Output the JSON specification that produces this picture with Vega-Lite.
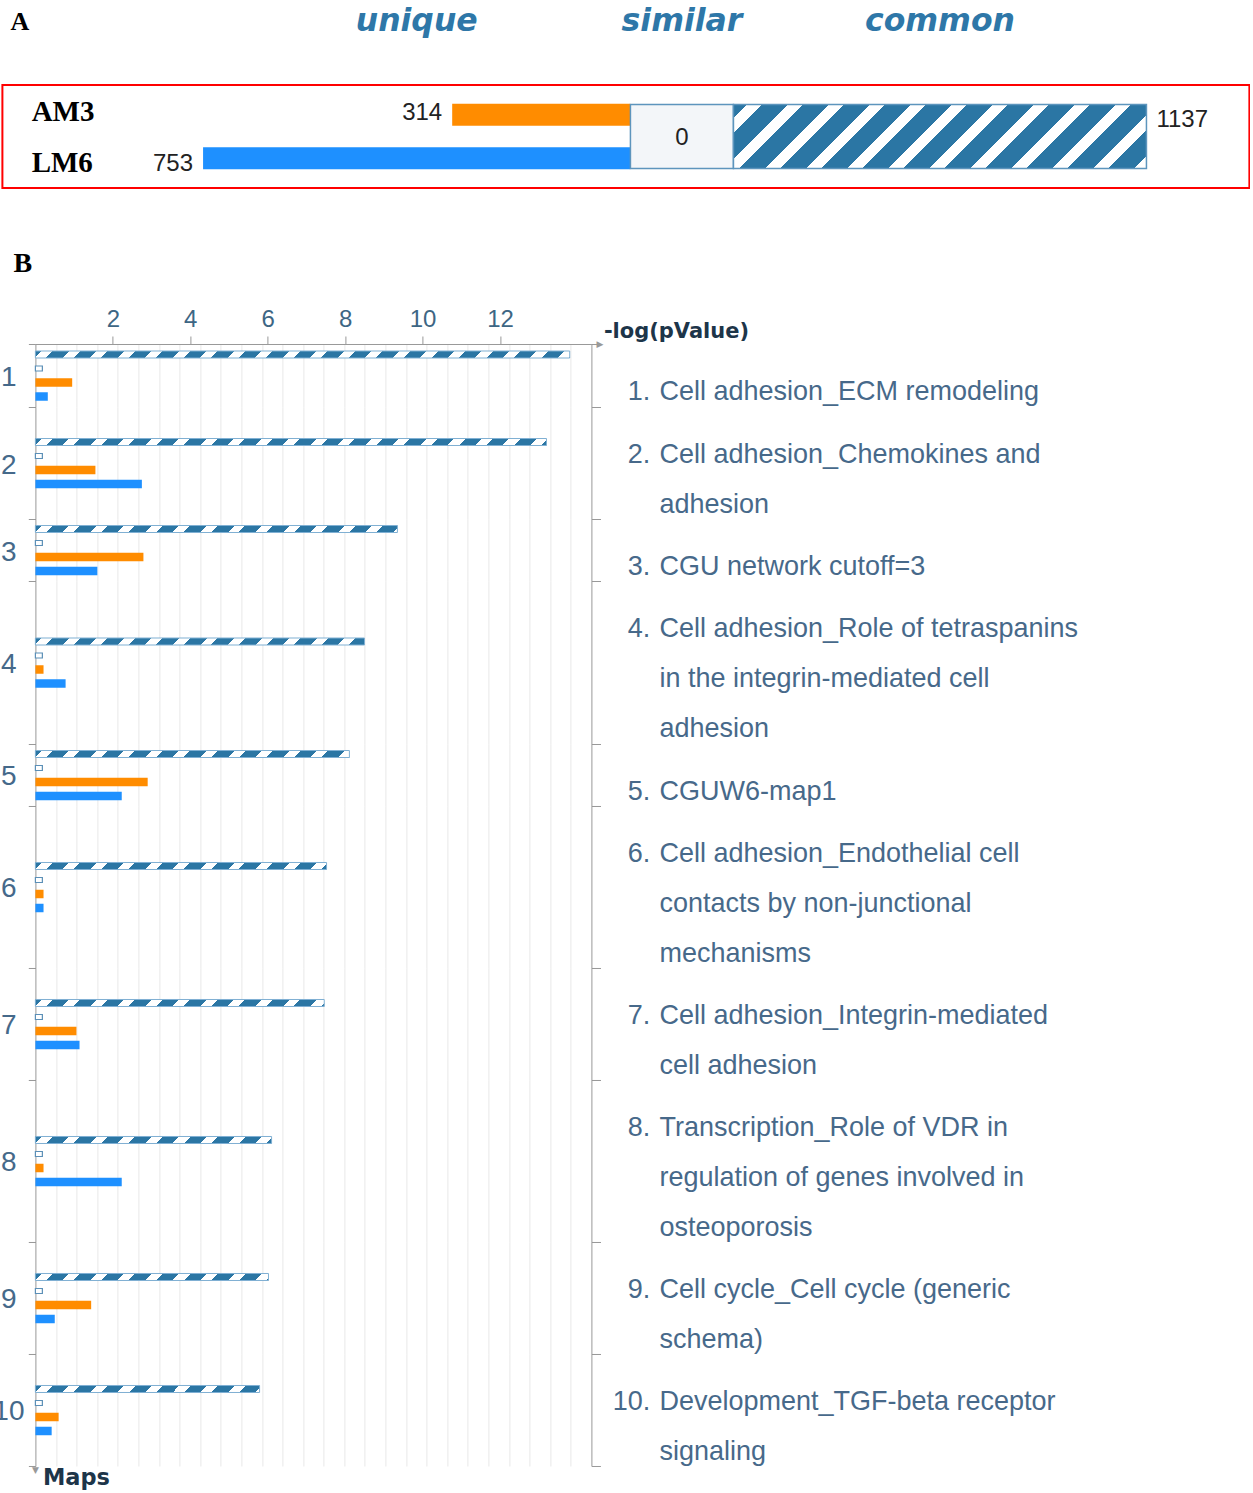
{
"$schema":"https://vega.github.io/schema/vega-lite/v6.json",
"background":"#ffffff",
"padding":{"left":-7.6,"top":0,"right":0,"bottom":2},
"config":{"view":{"stroke":null},"axis":{"labelFont":"Liberation Sans","titleFont":"DejaVu Sans","domainColor":"#999999","tickColor":"#999999","grid":false},"text":{"font":"Liberation Sans"}},
"datasets":{
"header":[{"label":"A"},{"label":"unique"},{"label":"similar"},{"label":"common"}],
"panelA":[{"sample":"AM3","kind":"AM3","n":314},{"sample":"LM6","kind":"LM6","n":753},{"sample":"AM3+LM6","kind":"similar","n":0},{"sample":"AM3+LM6","kind":"common","n":1137}],
"maps":[
{"map":1,"num":"1.","label":"Cell adhesion_ECM remodeling"},
{"map":2,"num":"2.","label":"Cell adhesion_Chemokines and\nadhesion"},
{"map":3,"num":"3.","label":"CGU network cutoff=3"},
{"map":4,"num":"4.","label":"Cell adhesion_Role of tetraspanins\nin the integrin-mediated cell\nadhesion"},
{"map":5,"num":"5.","label":"CGUW6-map1"},
{"map":6,"num":"6.","label":"Cell adhesion_Endothelial cell\ncontacts by non-junctional\nmechanisms"},
{"map":7,"num":"7.","label":"Cell adhesion_Integrin-mediated\ncell adhesion"},
{"map":8,"num":"8.","label":"Transcription_Role of VDR in\nregulation of genes involved in\nosteoporosis"},
{"map":9,"num":"9.","label":"Cell cycle_Cell cycle (generic\nschema)"},
{"map":10,"num":"10.","label":"Development_TGF-beta receptor\nsignaling"}],
"bars":[
{"map":1,"kind":"common","value":13.8},{"map":1,"kind":"similar","value":0.18},{"map":1,"kind":"AM3","value":0.95},{"map":1,"kind":"LM6","value":0.32},
{"map":2,"kind":"common","value":13.2},{"map":2,"kind":"similar","value":0.18},{"map":2,"kind":"AM3","value":1.55},{"map":2,"kind":"LM6","value":2.75},
{"map":3,"kind":"common","value":9.35},{"map":3,"kind":"similar","value":0.18},{"map":3,"kind":"AM3","value":2.79},{"map":3,"kind":"LM6","value":1.6},
{"map":4,"kind":"common","value":8.5},{"map":4,"kind":"similar","value":0.18},{"map":4,"kind":"AM3","value":0.21},{"map":4,"kind":"LM6","value":0.78},
{"map":5,"kind":"common","value":8.11},{"map":5,"kind":"similar","value":0.18},{"map":5,"kind":"AM3","value":2.9},{"map":5,"kind":"LM6","value":2.23},
{"map":6,"kind":"common","value":7.52},{"map":6,"kind":"similar","value":0.18},{"map":6,"kind":"AM3","value":0.21},{"map":6,"kind":"LM6","value":0.21},
{"map":7,"kind":"common","value":7.46},{"map":7,"kind":"similar","value":0.18},{"map":7,"kind":"AM3","value":1.06},{"map":7,"kind":"LM6","value":1.14},
{"map":8,"kind":"common","value":6.1},{"map":8,"kind":"similar","value":0.18},{"map":8,"kind":"AM3","value":0.21},{"map":8,"kind":"LM6","value":2.23},
{"map":9,"kind":"common","value":6.02},{"map":9,"kind":"similar","value":0.18},{"map":9,"kind":"AM3","value":1.44},{"map":9,"kind":"LM6","value":0.5},
{"map":10,"kind":"common","value":5.79},{"map":10,"kind":"similar","value":0.18},{"map":10,"kind":"AM3","value":0.6},{"map":10,"kind":"LM6","value":0.42}]
},
"spacing":0,
"vconcat":[
{"width":1247,"height":84,"data":{"name":"header"},
"layer":[
{"transform":[{"filter":"datum.label==='A'"}],"mark":{"type":"text","align":"left","baseline":"middle","dy":-20,"font":"Liberation Serif","fontWeight":"bold","fontSize":26,"color":"#000000"},"encoding":{"x":{"datum":1092.5,"type":"quantitative","scale":{"domain":[-1090.8,1106.6],"reverse":true,"nice":false,"zero":false},"axis":null},"text":{"field":"label"}}},
{"transform":[{"filter":"datum.label==='unique'"}],"mark":{"type":"text","align":"center","baseline":"middle","dy":-20,"font":"DejaVu Sans","fontStyle":"italic","fontWeight":"bold","fontSize":31.5,"color":"#2e77a8"},"encoding":{"x":{"datum":376.5,"type":"quantitative","scale":{"domain":[-1090.8,1106.6],"reverse":true,"nice":false,"zero":false},"axis":null},"text":{"field":"label"}}},
{"transform":[{"filter":"datum.label==='similar'"}],"mark":{"type":"text","align":"center","baseline":"middle","dy":-20,"font":"DejaVu Sans","fontStyle":"italic","fontWeight":"bold","fontSize":31.5,"color":"#2e77a8"},"encoding":{"x":{"datum":-141.8,"type":"quantitative","scale":{"domain":[-2012.6,1420.4],"nice":false,"zero":false},"axis":null},"text":{"field":"label"}}},
{"transform":[{"filter":"datum.label==='common'"}],"mark":{"type":"text","align":"center","baseline":"middle","dy":-20,"font":"DejaVu Sans","fontStyle":"italic","fontWeight":"bold","fontSize":31.5,"color":"#2e77a8"},"encoding":{"x":{"datum":568.5,"type":"quantitative","scale":{"domain":[-2012.6,1420.4],"nice":false,"zero":false},"axis":null},"text":{"field":"label"}}}
],
"resolve":{"scale":{"x":"independent"}}},
{"width":1247,"height":103,"view":{"stroke":"#ff0000","strokeWidth":2},"data":{"name":"panelA"},
"layer":[
{"transform":[{"filter":"datum.kind==='AM3'||datum.kind==='LM6'"}],"mark":{"type":"bar"},"encoding":{"x":{"field":"n","type":"quantitative","scale":{"domain":[-1090.8,1106.6],"reverse":true,"nice":false,"zero":false},"axis":null},"y":{"field":"sample","type":"nominal","scale":{"domain":["AM3","LM6"],"paddingInner":0.494,"paddingOuter":0.431},"axis":null},"color":{"field":"kind","type":"nominal","scale":{"domain":["AM3","LM6"],"range":["#ff8c00","#1e90ff"]},"legend":null}}},
{"transform":[{"filter":"datum.kind==='AM3'||datum.kind==='LM6'"}],"mark":{"type":"text","align":"left","baseline":"middle","dy":1,"font":"Liberation Serif","fontWeight":"bold","fontSize":29,"color":"#000000"},"encoding":{"x":{"datum":1055,"type":"quantitative","scale":{"domain":[-1090.8,1106.6],"reverse":true,"nice":false,"zero":false},"axis":null},"y":{"field":"sample","type":"nominal","scale":{"domain":["AM3","LM6"],"paddingInner":0.494,"paddingOuter":0.431},"axis":null},"text":{"field":"sample"}}},
{"transform":[{"filter":"datum.kind==='AM3'||datum.kind==='LM6'"}],"mark":{"type":"text","align":"right","baseline":"middle","dx":-10,"dy":2,"font":"Liberation Sans","fontSize":24,"color":"#222222"},"encoding":{"x":{"field":"n","type":"quantitative","scale":{"domain":[-1090.8,1106.6],"reverse":true,"nice":false,"zero":false},"axis":null},"y":{"field":"sample","type":"nominal","scale":{"domain":["AM3","LM6"],"paddingInner":0.494,"paddingOuter":0.431},"axis":null},"text":{"field":"n"}}},
{"transform":[{"filter":"datum.kind==='similar'"}],"mark":{"type":"bar","fill":"#f3f6f9","stroke":"#5d95bd","strokeWidth":1.5},"encoding":{"x":{"datum":-283.6,"type":"quantitative","scale":{"domain":[-2012.6,1420.4],"nice":false,"zero":false},"axis":null},"x2":{"datum":0},"y":{"datum":"AM3+LM6","type":"nominal","scale":{"domain":["AM3+LM6"],"paddingInner":0,"paddingOuter":0.3047},"axis":null}}},
{"transform":[{"filter":"datum.kind==='similar'"}],"mark":{"type":"text","align":"center","baseline":"middle","dy":1,"font":"Liberation Sans","fontSize":24,"color":"#222222"},"encoding":{"x":{"datum":-141.8,"type":"quantitative","scale":{"domain":[-2012.6,1420.4],"nice":false,"zero":false},"axis":null},"y":{"datum":"AM3+LM6","type":"nominal","scale":{"domain":["AM3+LM6"],"paddingInner":0,"paddingOuter":0.3047},"axis":null},"text":{"field":"n"}}},
{"transform":[{"filter":"datum.kind==='common'"}],"mark":{"type":"bar","stroke":"#5d95bd","strokeWidth":1.5,"fill":{"gradient":"linear","x1":0,"y1":0,"x2":1.2,"y2":0.18596,"stops":[{"offset":0,"color":"#2b76a4"},
{"offset":0.0266,"color":"#2b76a4"},{"offset":0.0266,"color":"#fff"},{"offset":0.0562,"color":"#fff"},{"offset":0.0562,"color":"#2b76a4"},
{"offset":0.1074,"color":"#2b76a4"},{"offset":0.1074,"color":"#fff"},{"offset":0.1369,"color":"#fff"},{"offset":0.1369,"color":"#2b76a4"},
{"offset":0.1882,"color":"#2b76a4"},{"offset":0.1882,"color":"#fff"},{"offset":0.2177,"color":"#fff"},{"offset":0.2177,"color":"#2b76a4"},
{"offset":0.269,"color":"#2b76a4"},{"offset":0.269,"color":"#fff"},{"offset":0.2985,"color":"#fff"},{"offset":0.2985,"color":"#2b76a4"},
{"offset":0.3498,"color":"#2b76a4"},{"offset":0.3498,"color":"#fff"},{"offset":0.3793,"color":"#fff"},{"offset":0.3793,"color":"#2b76a4"},
{"offset":0.4305,"color":"#2b76a4"},{"offset":0.4305,"color":"#fff"},{"offset":0.4601,"color":"#fff"},{"offset":0.4601,"color":"#2b76a4"},
{"offset":0.5113,"color":"#2b76a4"},{"offset":0.5113,"color":"#fff"},{"offset":0.5409,"color":"#fff"},{"offset":0.5409,"color":"#2b76a4"},
{"offset":0.5921,"color":"#2b76a4"},{"offset":0.5921,"color":"#fff"},{"offset":0.6217,"color":"#fff"},{"offset":0.6217,"color":"#2b76a4"},
{"offset":0.6729,"color":"#2b76a4"},{"offset":0.6729,"color":"#fff"},{"offset":0.7025,"color":"#fff"},{"offset":0.7025,"color":"#2b76a4"},
{"offset":0.7537,"color":"#2b76a4"},{"offset":0.7537,"color":"#fff"},{"offset":0.7833,"color":"#fff"},{"offset":0.7833,"color":"#2b76a4"},
{"offset":0.8345,"color":"#2b76a4"},{"offset":0.8345,"color":"#fff"},{"offset":0.864,"color":"#fff"},{"offset":0.864,"color":"#2b76a4"},
{"offset":0.9153,"color":"#2b76a4"},{"offset":0.9153,"color":"#fff"},{"offset":0.9448,"color":"#fff"},{"offset":0.9448,"color":"#2b76a4"}]}},"encoding":{"x":{"field":"n","type":"quantitative","scale":{"domain":[-2012.6,1420.4],"nice":false,"zero":false},"axis":null},"y":{"datum":"AM3+LM6","type":"nominal","scale":{"domain":["AM3+LM6"],"paddingInner":0,"paddingOuter":0.3047},"axis":null}}},
{"transform":[{"filter":"datum.kind==='common'"}],"mark":{"type":"text","align":"left","baseline":"middle","dx":10,"dy":-17,"font":"Liberation Sans","fontSize":24,"color":"#222222"},"encoding":{"x":{"field":"n","type":"quantitative","scale":{"domain":[-2012.6,1420.4],"nice":false,"zero":false},"axis":null},"y":{"datum":"AM3+LM6","type":"nominal","scale":{"domain":["AM3+LM6"],"paddingInner":0,"paddingOuter":0.3047},"axis":null},"text":{"field":"n"}}}
],
"resolve":{"scale":{"x":"independent","y":"independent"}}},
{"width":1247,"height":60,"mark":"point","data":{"values":[]}},
{"hconcat":[
{"width":33,"height":1,"mark":"point","data":{"values":[]}},
{"vconcat":[
{"width":556,"height":63,
"title":{"text":"B","anchor":"start","frame":"group","dx":-22,"offset":2,"font":"Liberation Serif","fontSize":28,"fontWeight":"bold","color":"#000000","baseline":"bottom"},
"layer":[
{"data":{"name":"maps"},"transform":[{"filter":"datum.map===1"}],"mark":{"type":"point","opacity":0},"encoding":{"x":{"datum":0,"type":"quantitative","scale":{"domain":[0,27],"nice":false,"zero":false},"axis":{"orient":"bottom","grid":true,"gridColor":"#e8e8e8","labels":false,"ticks":false,"domain":false,"title":null,"values":[1,2,3,4,5,6,7,8,9,10,11,12,13,14,15,16,17,18,19,20,21,22,23,24,25,26]}}}},
{"data":{"name":"maps"},"transform":[{"filter":"datum.map===1"}],"mark":{"type":"text","align":"left","baseline":"alphabetic","dy":56,"lineBreak":"\n","lineHeight":50,"fontSize":27,"color":"#47698a"},"encoding":{"x":{"datum":16.12,"type":"quantitative","scale":{"domain":[0,14.36],"nice":false,"zero":false},"axis":null},"y":{"field":"map","type":"nominal","bandPosition":0,"scale":{"paddingInner":0,"paddingOuter":0},"axis":{"orient":"left","title":null,"tickBand":"extent","tickSize":7,"labelFontSize":28,"labelAlign":"center","labelColor":"#45698a","labelPadding":20,"labelOffset":2}},"text":{"field":"label"}}},
{"data":{"name":"maps"},"transform":[{"filter":"datum.map===1"}],"mark":{"type":"text","align":"right","baseline":"alphabetic","dy":56,"fontSize":27,"color":"#47698a"},"encoding":{"x":{"datum":15.88,"type":"quantitative","scale":{"domain":[0,14.36],"nice":false,"zero":false},"axis":null},"y":{"field":"map","type":"nominal","bandPosition":0,"scale":{"paddingInner":0,"paddingOuter":0},"axis":{"orient":"right","labels":false,"title":null,"tickBand":"extent","tickSize":9}},"text":{"field":"num"}}},
{"data":{"name":"bars"},"transform":[{"filter":"datum.map===1&&datum.kind==='common'"}],"mark":{"type":"bar","height":7,"stroke":"#7fb0d3","strokeWidth":1,"fill":{"gradient":"linear","x1":0,"y1":0,"x2":1.0481,"y2":0.01373,"stops":[{"offset":0,"color":"#2b76a4"},
{"offset":0.0116,"color":"#2b76a4"},{"offset":0.0116,"color":"#fff"},{"offset":0.0313,"color":"#fff"},{"offset":0.0313,"color":"#2b76a4"},
{"offset":0.0607,"color":"#2b76a4"},{"offset":0.0607,"color":"#fff"},{"offset":0.0804,"color":"#fff"},{"offset":0.0804,"color":"#2b76a4"},
{"offset":0.1098,"color":"#2b76a4"},{"offset":0.1098,"color":"#fff"},{"offset":0.1295,"color":"#fff"},{"offset":0.1295,"color":"#2b76a4"},
{"offset":0.1589,"color":"#2b76a4"},{"offset":0.1589,"color":"#fff"},{"offset":0.1786,"color":"#fff"},{"offset":0.1786,"color":"#2b76a4"},
{"offset":0.208,"color":"#2b76a4"},{"offset":0.208,"color":"#fff"},{"offset":0.2277,"color":"#fff"},{"offset":0.2277,"color":"#2b76a4"},
{"offset":0.2571,"color":"#2b76a4"},{"offset":0.2571,"color":"#fff"},{"offset":0.2768,"color":"#fff"},{"offset":0.2768,"color":"#2b76a4"},
{"offset":0.3063,"color":"#2b76a4"},{"offset":0.3063,"color":"#fff"},{"offset":0.3259,"color":"#fff"},{"offset":0.3259,"color":"#2b76a4"},
{"offset":0.3554,"color":"#2b76a4"},{"offset":0.3554,"color":"#fff"},{"offset":0.375,"color":"#fff"},{"offset":0.375,"color":"#2b76a4"},
{"offset":0.4045,"color":"#2b76a4"},{"offset":0.4045,"color":"#fff"},{"offset":0.4241,"color":"#fff"},{"offset":0.4241,"color":"#2b76a4"},
{"offset":0.4536,"color":"#2b76a4"},{"offset":0.4536,"color":"#fff"},{"offset":0.4732,"color":"#fff"},{"offset":0.4732,"color":"#2b76a4"},
{"offset":0.5027,"color":"#2b76a4"},{"offset":0.5027,"color":"#fff"},{"offset":0.5223,"color":"#fff"},{"offset":0.5223,"color":"#2b76a4"},
{"offset":0.5518,"color":"#2b76a4"},{"offset":0.5518,"color":"#fff"},{"offset":0.5714,"color":"#fff"},{"offset":0.5714,"color":"#2b76a4"},
{"offset":0.6009,"color":"#2b76a4"},{"offset":0.6009,"color":"#fff"},{"offset":0.6205,"color":"#fff"},{"offset":0.6205,"color":"#2b76a4"},
{"offset":0.65,"color":"#2b76a4"},{"offset":0.65,"color":"#fff"},{"offset":0.6696,"color":"#fff"},{"offset":0.6696,"color":"#2b76a4"},
{"offset":0.6991,"color":"#2b76a4"},{"offset":0.6991,"color":"#fff"},{"offset":0.7188,"color":"#fff"},{"offset":0.7188,"color":"#2b76a4"},
{"offset":0.7482,"color":"#2b76a4"},{"offset":0.7482,"color":"#fff"},{"offset":0.7679,"color":"#fff"},{"offset":0.7679,"color":"#2b76a4"},
{"offset":0.7973,"color":"#2b76a4"},{"offset":0.7973,"color":"#fff"},{"offset":0.817,"color":"#fff"},{"offset":0.817,"color":"#2b76a4"},
{"offset":0.8464,"color":"#2b76a4"},{"offset":0.8464,"color":"#fff"},{"offset":0.8661,"color":"#fff"},{"offset":0.8661,"color":"#2b76a4"},
{"offset":0.8955,"color":"#2b76a4"},{"offset":0.8955,"color":"#fff"},{"offset":0.9152,"color":"#fff"},{"offset":0.9152,"color":"#2b76a4"},
{"offset":0.9446,"color":"#2b76a4"},{"offset":0.9446,"color":"#fff"},{"offset":0.9643,"color":"#fff"},{"offset":0.9643,"color":"#2b76a4"}]}},"encoding":{"x":{"field":"value","type":"quantitative","scale":{"domain":[0,14.36],"nice":false,"zero":false},"axis":{"orient":"top","values":[2,4,6,8,10,12],"tickSize":8,"labelFontSize":24,"labelColor":"#3d6684","labelPadding":4.5,"title":"-log(pValue)","titleFontWeight":"bold","titleFontSize":21,"titleColor":"#1d3549","titleAngle":0,"titleAlign":"left","titleBaseline":"middle","titleX":568,"titleY":-13}},"y":{"field":"map","type":"nominal","scale":{"paddingInner":0,"paddingOuter":0.0625},"axis":null},"yOffset":{"field":"kind","type":"nominal","scale":{"domain":["common","similar","AM3","LM6"],"paddingInner":0.43,"paddingOuter":0.215}}}},
{"data":{"name":"bars"},"transform":[{"filter":"datum.map===1&&datum.kind==='similar'"}],"mark":{"type":"bar","height":5,"fill":"#ffffff","stroke":"#5b8fb7","strokeWidth":1.2},"encoding":{"x":{"field":"value","type":"quantitative","scale":{"domain":[0,14.36],"nice":false,"zero":false},"axis":null},"y":{"field":"map","type":"nominal","scale":{"paddingInner":0,"paddingOuter":0.0625},"axis":null},"yOffset":{"field":"kind","type":"nominal","scale":{"domain":["common","similar","AM3","LM6"],"paddingInner":0.43,"paddingOuter":0.215}}}},
{"data":{"name":"bars"},"transform":[{"filter":"datum.map===1&&(datum.kind==='AM3'||datum.kind==='LM6')"}],"mark":{"type":"bar","height":8.5},"encoding":{"x":{"field":"value","type":"quantitative","scale":{"domain":[0,14.36],"nice":false,"zero":false},"axis":null},"y":{"field":"map","type":"nominal","scale":{"paddingInner":0,"paddingOuter":0.0625},"axis":null},"yOffset":{"field":"kind","type":"nominal","scale":{"domain":["common","similar","AM3","LM6"],"paddingInner":0.43,"paddingOuter":0.215}},"color":{"field":"kind","type":"nominal","scale":{"domain":["AM3","LM6"],"range":["#ff8c00","#1e90ff"]},"legend":null}}},
{"data":{"name":"maps"},"transform":[{"filter":"datum.map===1"}],"mark":{"type":"text","text":"▶","font":"DejaVu Sans","fontSize":9,"align":"left","baseline":"middle","dy":-31.5,"color":"#999999"},"encoding":{"x":{"datum":14.49,"type":"quantitative","scale":{"domain":[0,14.36],"nice":false,"zero":false},"axis":null},"y":{"field":"map","type":"nominal","scale":{"paddingInner":0,"paddingOuter":0},"axis":null}}}
],
"resolve":{"scale":{"x":"independent","y":"independent","yOffset":"independent"}}},
{"width":556,"height":112,
"layer":[
{"data":{"name":"maps"},"transform":[{"filter":"datum.map===2"}],"mark":{"type":"point","opacity":0},"encoding":{"x":{"datum":0,"type":"quantitative","scale":{"domain":[0,27],"nice":false,"zero":false},"axis":{"orient":"bottom","grid":true,"gridColor":"#e8e8e8","labels":false,"ticks":false,"domain":false,"title":null,"values":[1,2,3,4,5,6,7,8,9,10,11,12,13,14,15,16,17,18,19,20,21,22,23,24,25,26]}}}},
{"data":{"name":"maps"},"transform":[{"filter":"datum.map===2"}],"mark":{"type":"text","align":"left","baseline":"alphabetic","dy":56,"lineBreak":"\n","lineHeight":50,"fontSize":27,"color":"#47698a"},"encoding":{"x":{"datum":16.12,"type":"quantitative","scale":{"domain":[0,14.36],"nice":false,"zero":false},"axis":null},"y":{"field":"map","type":"nominal","bandPosition":0,"scale":{"paddingInner":0,"paddingOuter":0},"axis":{"orient":"left","title":null,"tickBand":"extent","tickSize":7,"labelFontSize":28,"labelAlign":"center","labelColor":"#45698a","labelPadding":20,"labelOffset":2}},"text":{"field":"label"}}},
{"data":{"name":"maps"},"transform":[{"filter":"datum.map===2"}],"mark":{"type":"text","align":"right","baseline":"alphabetic","dy":56,"fontSize":27,"color":"#47698a"},"encoding":{"x":{"datum":15.88,"type":"quantitative","scale":{"domain":[0,14.36],"nice":false,"zero":false},"axis":null},"y":{"field":"map","type":"nominal","bandPosition":0,"scale":{"paddingInner":0,"paddingOuter":0},"axis":{"orient":"right","labels":false,"title":null,"tickBand":"extent","tickSize":9}},"text":{"field":"num"}}},
{"data":{"name":"bars"},"transform":[{"filter":"datum.map===2&&datum.kind==='common'"}],"mark":{"type":"bar","height":7,"stroke":"#7fb0d3","strokeWidth":1,"fill":{"gradient":"linear","x1":0,"y1":0,"x2":1.0957,"y2":0.01501,"stops":[{"offset":0,"color":"#2b76a4"},
{"offset":0.0116,"color":"#2b76a4"},{"offset":0.0116,"color":"#fff"},{"offset":0.0313,"color":"#fff"},{"offset":0.0313,"color":"#2b76a4"},
{"offset":0.0607,"color":"#2b76a4"},{"offset":0.0607,"color":"#fff"},{"offset":0.0804,"color":"#fff"},{"offset":0.0804,"color":"#2b76a4"},
{"offset":0.1098,"color":"#2b76a4"},{"offset":0.1098,"color":"#fff"},{"offset":0.1295,"color":"#fff"},{"offset":0.1295,"color":"#2b76a4"},
{"offset":0.1589,"color":"#2b76a4"},{"offset":0.1589,"color":"#fff"},{"offset":0.1786,"color":"#fff"},{"offset":0.1786,"color":"#2b76a4"},
{"offset":0.208,"color":"#2b76a4"},{"offset":0.208,"color":"#fff"},{"offset":0.2277,"color":"#fff"},{"offset":0.2277,"color":"#2b76a4"},
{"offset":0.2571,"color":"#2b76a4"},{"offset":0.2571,"color":"#fff"},{"offset":0.2768,"color":"#fff"},{"offset":0.2768,"color":"#2b76a4"},
{"offset":0.3063,"color":"#2b76a4"},{"offset":0.3063,"color":"#fff"},{"offset":0.3259,"color":"#fff"},{"offset":0.3259,"color":"#2b76a4"},
{"offset":0.3554,"color":"#2b76a4"},{"offset":0.3554,"color":"#fff"},{"offset":0.375,"color":"#fff"},{"offset":0.375,"color":"#2b76a4"},
{"offset":0.4045,"color":"#2b76a4"},{"offset":0.4045,"color":"#fff"},{"offset":0.4241,"color":"#fff"},{"offset":0.4241,"color":"#2b76a4"},
{"offset":0.4536,"color":"#2b76a4"},{"offset":0.4536,"color":"#fff"},{"offset":0.4732,"color":"#fff"},{"offset":0.4732,"color":"#2b76a4"},
{"offset":0.5027,"color":"#2b76a4"},{"offset":0.5027,"color":"#fff"},{"offset":0.5223,"color":"#fff"},{"offset":0.5223,"color":"#2b76a4"},
{"offset":0.5518,"color":"#2b76a4"},{"offset":0.5518,"color":"#fff"},{"offset":0.5714,"color":"#fff"},{"offset":0.5714,"color":"#2b76a4"},
{"offset":0.6009,"color":"#2b76a4"},{"offset":0.6009,"color":"#fff"},{"offset":0.6205,"color":"#fff"},{"offset":0.6205,"color":"#2b76a4"},
{"offset":0.65,"color":"#2b76a4"},{"offset":0.65,"color":"#fff"},{"offset":0.6696,"color":"#fff"},{"offset":0.6696,"color":"#2b76a4"},
{"offset":0.6991,"color":"#2b76a4"},{"offset":0.6991,"color":"#fff"},{"offset":0.7188,"color":"#fff"},{"offset":0.7188,"color":"#2b76a4"},
{"offset":0.7482,"color":"#2b76a4"},{"offset":0.7482,"color":"#fff"},{"offset":0.7679,"color":"#fff"},{"offset":0.7679,"color":"#2b76a4"},
{"offset":0.7973,"color":"#2b76a4"},{"offset":0.7973,"color":"#fff"},{"offset":0.817,"color":"#fff"},{"offset":0.817,"color":"#2b76a4"},
{"offset":0.8464,"color":"#2b76a4"},{"offset":0.8464,"color":"#fff"},{"offset":0.8661,"color":"#fff"},{"offset":0.8661,"color":"#2b76a4"},
{"offset":0.8955,"color":"#2b76a4"},{"offset":0.8955,"color":"#fff"},{"offset":0.9152,"color":"#fff"},{"offset":0.9152,"color":"#2b76a4"}]}},"encoding":{"x":{"field":"value","type":"quantitative","scale":{"domain":[0,14.36],"nice":false,"zero":false},"axis":null},"y":{"field":"map","type":"nominal","scale":{"paddingInner":0,"paddingOuter":0.5},"axis":null},"yOffset":{"field":"kind","type":"nominal","scale":{"domain":["common","similar","AM3","LM6"],"paddingInner":0.43,"paddingOuter":0.215}}}},
{"data":{"name":"bars"},"transform":[{"filter":"datum.map===2&&datum.kind==='similar'"}],"mark":{"type":"bar","height":5,"fill":"#ffffff","stroke":"#5b8fb7","strokeWidth":1.2},"encoding":{"x":{"field":"value","type":"quantitative","scale":{"domain":[0,14.36],"nice":false,"zero":false},"axis":null},"y":{"field":"map","type":"nominal","scale":{"paddingInner":0,"paddingOuter":0.5},"axis":null},"yOffset":{"field":"kind","type":"nominal","scale":{"domain":["common","similar","AM3","LM6"],"paddingInner":0.43,"paddingOuter":0.215}}}},
{"data":{"name":"bars"},"transform":[{"filter":"datum.map===2&&(datum.kind==='AM3'||datum.kind==='LM6')"}],"mark":{"type":"bar","height":8.5},"encoding":{"x":{"field":"value","type":"quantitative","scale":{"domain":[0,14.36],"nice":false,"zero":false},"axis":null},"y":{"field":"map","type":"nominal","scale":{"paddingInner":0,"paddingOuter":0.5},"axis":null},"yOffset":{"field":"kind","type":"nominal","scale":{"domain":["common","similar","AM3","LM6"],"paddingInner":0.43,"paddingOuter":0.215}},"color":{"field":"kind","type":"nominal","scale":{"domain":["AM3","LM6"],"range":["#ff8c00","#1e90ff"]},"legend":null}}}
],
"resolve":{"scale":{"x":"independent","y":"independent","yOffset":"independent"}}},
{"width":556,"height":62,
"layer":[
{"data":{"name":"maps"},"transform":[{"filter":"datum.map===3"}],"mark":{"type":"point","opacity":0},"encoding":{"x":{"datum":0,"type":"quantitative","scale":{"domain":[0,27],"nice":false,"zero":false},"axis":{"orient":"bottom","grid":true,"gridColor":"#e8e8e8","labels":false,"ticks":false,"domain":false,"title":null,"values":[1,2,3,4,5,6,7,8,9,10,11,12,13,14,15,16,17,18,19,20,21,22,23,24,25,26]}}}},
{"data":{"name":"maps"},"transform":[{"filter":"datum.map===3"}],"mark":{"type":"text","align":"left","baseline":"alphabetic","dy":56,"lineBreak":"\n","lineHeight":50,"fontSize":27,"color":"#47698a"},"encoding":{"x":{"datum":16.12,"type":"quantitative","scale":{"domain":[0,14.36],"nice":false,"zero":false},"axis":null},"y":{"field":"map","type":"nominal","bandPosition":0,"scale":{"paddingInner":0,"paddingOuter":0},"axis":{"orient":"left","title":null,"tickBand":"extent","tickSize":7,"labelFontSize":28,"labelAlign":"center","labelColor":"#45698a","labelPadding":20,"labelOffset":2}},"text":{"field":"label"}}},
{"data":{"name":"maps"},"transform":[{"filter":"datum.map===3"}],"mark":{"type":"text","align":"right","baseline":"alphabetic","dy":56,"fontSize":27,"color":"#47698a"},"encoding":{"x":{"datum":15.88,"type":"quantitative","scale":{"domain":[0,14.36],"nice":false,"zero":false},"axis":null},"y":{"field":"map","type":"nominal","bandPosition":0,"scale":{"paddingInner":0,"paddingOuter":0},"axis":{"orient":"right","labels":false,"title":null,"tickBand":"extent","tickSize":9}},"text":{"field":"num"}}},
{"data":{"name":"bars"},"transform":[{"filter":"datum.map===3&&datum.kind==='common'"}],"mark":{"type":"bar","height":7,"stroke":"#7fb0d3","strokeWidth":1,"fill":{"gradient":"linear","x1":0,"y1":0,"x2":1.547,"y2":0.02991,"stops":[{"offset":0,"color":"#2b76a4"},
{"offset":0.0116,"color":"#2b76a4"},{"offset":0.0116,"color":"#fff"},{"offset":0.0313,"color":"#fff"},{"offset":0.0313,"color":"#2b76a4"},
{"offset":0.0607,"color":"#2b76a4"},{"offset":0.0607,"color":"#fff"},{"offset":0.0804,"color":"#fff"},{"offset":0.0804,"color":"#2b76a4"},
{"offset":0.1098,"color":"#2b76a4"},{"offset":0.1098,"color":"#fff"},{"offset":0.1295,"color":"#fff"},{"offset":0.1295,"color":"#2b76a4"},
{"offset":0.1589,"color":"#2b76a4"},{"offset":0.1589,"color":"#fff"},{"offset":0.1786,"color":"#fff"},{"offset":0.1786,"color":"#2b76a4"},
{"offset":0.208,"color":"#2b76a4"},{"offset":0.208,"color":"#fff"},{"offset":0.2277,"color":"#fff"},{"offset":0.2277,"color":"#2b76a4"},
{"offset":0.2571,"color":"#2b76a4"},{"offset":0.2571,"color":"#fff"},{"offset":0.2768,"color":"#fff"},{"offset":0.2768,"color":"#2b76a4"},
{"offset":0.3063,"color":"#2b76a4"},{"offset":0.3063,"color":"#fff"},{"offset":0.3259,"color":"#fff"},{"offset":0.3259,"color":"#2b76a4"},
{"offset":0.3554,"color":"#2b76a4"},{"offset":0.3554,"color":"#fff"},{"offset":0.375,"color":"#fff"},{"offset":0.375,"color":"#2b76a4"},
{"offset":0.4045,"color":"#2b76a4"},{"offset":0.4045,"color":"#fff"},{"offset":0.4241,"color":"#fff"},{"offset":0.4241,"color":"#2b76a4"},
{"offset":0.4536,"color":"#2b76a4"},{"offset":0.4536,"color":"#fff"},{"offset":0.4732,"color":"#fff"},{"offset":0.4732,"color":"#2b76a4"},
{"offset":0.5027,"color":"#2b76a4"},{"offset":0.5027,"color":"#fff"},{"offset":0.5223,"color":"#fff"},{"offset":0.5223,"color":"#2b76a4"},
{"offset":0.5518,"color":"#2b76a4"},{"offset":0.5518,"color":"#fff"},{"offset":0.5714,"color":"#fff"},{"offset":0.5714,"color":"#2b76a4"},
{"offset":0.6009,"color":"#2b76a4"},{"offset":0.6009,"color":"#fff"},{"offset":0.6205,"color":"#fff"},{"offset":0.6205,"color":"#2b76a4"},
{"offset":0.65,"color":"#2b76a4"},{"offset":0.65,"color":"#fff"},{"offset":0.6696,"color":"#fff"},{"offset":0.6696,"color":"#2b76a4"}]}},"encoding":{"x":{"field":"value","type":"quantitative","scale":{"domain":[0,14.36],"nice":false,"zero":false},"axis":null},"y":{"field":"map","type":"nominal","scale":{"paddingInner":0,"paddingOuter":0.0536},"axis":null},"yOffset":{"field":"kind","type":"nominal","scale":{"domain":["common","similar","AM3","LM6"],"paddingInner":0.43,"paddingOuter":0.215}}}},
{"data":{"name":"bars"},"transform":[{"filter":"datum.map===3&&datum.kind==='similar'"}],"mark":{"type":"bar","height":5,"fill":"#ffffff","stroke":"#5b8fb7","strokeWidth":1.2},"encoding":{"x":{"field":"value","type":"quantitative","scale":{"domain":[0,14.36],"nice":false,"zero":false},"axis":null},"y":{"field":"map","type":"nominal","scale":{"paddingInner":0,"paddingOuter":0.0536},"axis":null},"yOffset":{"field":"kind","type":"nominal","scale":{"domain":["common","similar","AM3","LM6"],"paddingInner":0.43,"paddingOuter":0.215}}}},
{"data":{"name":"bars"},"transform":[{"filter":"datum.map===3&&(datum.kind==='AM3'||datum.kind==='LM6')"}],"mark":{"type":"bar","height":8.5},"encoding":{"x":{"field":"value","type":"quantitative","scale":{"domain":[0,14.36],"nice":false,"zero":false},"axis":null},"y":{"field":"map","type":"nominal","scale":{"paddingInner":0,"paddingOuter":0.0536},"axis":null},"yOffset":{"field":"kind","type":"nominal","scale":{"domain":["common","similar","AM3","LM6"],"paddingInner":0.43,"paddingOuter":0.215}},"color":{"field":"kind","type":"nominal","scale":{"domain":["AM3","LM6"],"range":["#ff8c00","#1e90ff"]},"legend":null}}}
],
"resolve":{"scale":{"x":"independent","y":"independent","yOffset":"independent"}}},
{"width":556,"height":163,
"layer":[
{"data":{"name":"maps"},"transform":[{"filter":"datum.map===4"}],"mark":{"type":"point","opacity":0},"encoding":{"x":{"datum":0,"type":"quantitative","scale":{"domain":[0,27],"nice":false,"zero":false},"axis":{"orient":"bottom","grid":true,"gridColor":"#e8e8e8","labels":false,"ticks":false,"domain":false,"title":null,"values":[1,2,3,4,5,6,7,8,9,10,11,12,13,14,15,16,17,18,19,20,21,22,23,24,25,26]}}}},
{"data":{"name":"maps"},"transform":[{"filter":"datum.map===4"}],"mark":{"type":"text","align":"left","baseline":"alphabetic","dy":56,"lineBreak":"\n","lineHeight":50,"fontSize":27,"color":"#47698a"},"encoding":{"x":{"datum":16.12,"type":"quantitative","scale":{"domain":[0,14.36],"nice":false,"zero":false},"axis":null},"y":{"field":"map","type":"nominal","bandPosition":0,"scale":{"paddingInner":0,"paddingOuter":0},"axis":{"orient":"left","title":null,"tickBand":"extent","tickSize":7,"labelFontSize":28,"labelAlign":"center","labelColor":"#45698a","labelPadding":20,"labelOffset":2}},"text":{"field":"label"}}},
{"data":{"name":"maps"},"transform":[{"filter":"datum.map===4"}],"mark":{"type":"text","align":"right","baseline":"alphabetic","dy":56,"fontSize":27,"color":"#47698a"},"encoding":{"x":{"datum":15.88,"type":"quantitative","scale":{"domain":[0,14.36],"nice":false,"zero":false},"axis":null},"y":{"field":"map","type":"nominal","bandPosition":0,"scale":{"paddingInner":0,"paddingOuter":0},"axis":{"orient":"right","labels":false,"title":null,"tickBand":"extent","tickSize":9}},"text":{"field":"num"}}},
{"data":{"name":"bars"},"transform":[{"filter":"datum.map===4&&datum.kind==='common'"}],"mark":{"type":"bar","height":7,"stroke":"#7fb0d3","strokeWidth":1,"fill":{"gradient":"linear","x1":0,"y1":0,"x2":1.7016,"y2":0.03619,"stops":[{"offset":0,"color":"#2b76a4"},
{"offset":0.0116,"color":"#2b76a4"},{"offset":0.0116,"color":"#fff"},{"offset":0.0313,"color":"#fff"},{"offset":0.0313,"color":"#2b76a4"},
{"offset":0.0607,"color":"#2b76a4"},{"offset":0.0607,"color":"#fff"},{"offset":0.0804,"color":"#fff"},{"offset":0.0804,"color":"#2b76a4"},
{"offset":0.1098,"color":"#2b76a4"},{"offset":0.1098,"color":"#fff"},{"offset":0.1295,"color":"#fff"},{"offset":0.1295,"color":"#2b76a4"},
{"offset":0.1589,"color":"#2b76a4"},{"offset":0.1589,"color":"#fff"},{"offset":0.1786,"color":"#fff"},{"offset":0.1786,"color":"#2b76a4"},
{"offset":0.208,"color":"#2b76a4"},{"offset":0.208,"color":"#fff"},{"offset":0.2277,"color":"#fff"},{"offset":0.2277,"color":"#2b76a4"},
{"offset":0.2571,"color":"#2b76a4"},{"offset":0.2571,"color":"#fff"},{"offset":0.2768,"color":"#fff"},{"offset":0.2768,"color":"#2b76a4"},
{"offset":0.3063,"color":"#2b76a4"},{"offset":0.3063,"color":"#fff"},{"offset":0.3259,"color":"#fff"},{"offset":0.3259,"color":"#2b76a4"},
{"offset":0.3554,"color":"#2b76a4"},{"offset":0.3554,"color":"#fff"},{"offset":0.375,"color":"#fff"},{"offset":0.375,"color":"#2b76a4"},
{"offset":0.4045,"color":"#2b76a4"},{"offset":0.4045,"color":"#fff"},{"offset":0.4241,"color":"#fff"},{"offset":0.4241,"color":"#2b76a4"},
{"offset":0.4536,"color":"#2b76a4"},{"offset":0.4536,"color":"#fff"},{"offset":0.4732,"color":"#fff"},{"offset":0.4732,"color":"#2b76a4"},
{"offset":0.5027,"color":"#2b76a4"},{"offset":0.5027,"color":"#fff"},{"offset":0.5223,"color":"#fff"},{"offset":0.5223,"color":"#2b76a4"},
{"offset":0.5518,"color":"#2b76a4"},{"offset":0.5518,"color":"#fff"},{"offset":0.5714,"color":"#fff"},{"offset":0.5714,"color":"#2b76a4"},
{"offset":0.6009,"color":"#2b76a4"},{"offset":0.6009,"color":"#fff"},{"offset":0.6205,"color":"#fff"},{"offset":0.6205,"color":"#2b76a4"}]}},"encoding":{"x":{"field":"value","type":"quantitative","scale":{"domain":[0,14.36],"nice":false,"zero":false},"axis":null},"y":{"field":"map","type":"nominal","scale":{"paddingInner":0,"paddingOuter":0.9554},"axis":null},"yOffset":{"field":"kind","type":"nominal","scale":{"domain":["common","similar","AM3","LM6"],"paddingInner":0.43,"paddingOuter":0.215}}}},
{"data":{"name":"bars"},"transform":[{"filter":"datum.map===4&&datum.kind==='similar'"}],"mark":{"type":"bar","height":5,"fill":"#ffffff","stroke":"#5b8fb7","strokeWidth":1.2},"encoding":{"x":{"field":"value","type":"quantitative","scale":{"domain":[0,14.36],"nice":false,"zero":false},"axis":null},"y":{"field":"map","type":"nominal","scale":{"paddingInner":0,"paddingOuter":0.9554},"axis":null},"yOffset":{"field":"kind","type":"nominal","scale":{"domain":["common","similar","AM3","LM6"],"paddingInner":0.43,"paddingOuter":0.215}}}},
{"data":{"name":"bars"},"transform":[{"filter":"datum.map===4&&(datum.kind==='AM3'||datum.kind==='LM6')"}],"mark":{"type":"bar","height":8.5},"encoding":{"x":{"field":"value","type":"quantitative","scale":{"domain":[0,14.36],"nice":false,"zero":false},"axis":null},"y":{"field":"map","type":"nominal","scale":{"paddingInner":0,"paddingOuter":0.9554},"axis":null},"yOffset":{"field":"kind","type":"nominal","scale":{"domain":["common","similar","AM3","LM6"],"paddingInner":0.43,"paddingOuter":0.215}},"color":{"field":"kind","type":"nominal","scale":{"domain":["AM3","LM6"],"range":["#ff8c00","#1e90ff"]},"legend":null}}}
],
"resolve":{"scale":{"x":"independent","y":"independent","yOffset":"independent"}}},
{"width":556,"height":62,
"layer":[
{"data":{"name":"maps"},"transform":[{"filter":"datum.map===5"}],"mark":{"type":"point","opacity":0},"encoding":{"x":{"datum":0,"type":"quantitative","scale":{"domain":[0,27],"nice":false,"zero":false},"axis":{"orient":"bottom","grid":true,"gridColor":"#e8e8e8","labels":false,"ticks":false,"domain":false,"title":null,"values":[1,2,3,4,5,6,7,8,9,10,11,12,13,14,15,16,17,18,19,20,21,22,23,24,25,26]}}}},
{"data":{"name":"maps"},"transform":[{"filter":"datum.map===5"}],"mark":{"type":"text","align":"left","baseline":"alphabetic","dy":56,"lineBreak":"\n","lineHeight":50,"fontSize":27,"color":"#47698a"},"encoding":{"x":{"datum":16.12,"type":"quantitative","scale":{"domain":[0,14.36],"nice":false,"zero":false},"axis":null},"y":{"field":"map","type":"nominal","bandPosition":0,"scale":{"paddingInner":0,"paddingOuter":0},"axis":{"orient":"left","title":null,"tickBand":"extent","tickSize":7,"labelFontSize":28,"labelAlign":"center","labelColor":"#45698a","labelPadding":20,"labelOffset":2}},"text":{"field":"label"}}},
{"data":{"name":"maps"},"transform":[{"filter":"datum.map===5"}],"mark":{"type":"text","align":"right","baseline":"alphabetic","dy":56,"fontSize":27,"color":"#47698a"},"encoding":{"x":{"datum":15.88,"type":"quantitative","scale":{"domain":[0,14.36],"nice":false,"zero":false},"axis":null},"y":{"field":"map","type":"nominal","bandPosition":0,"scale":{"paddingInner":0,"paddingOuter":0},"axis":{"orient":"right","labels":false,"title":null,"tickBand":"extent","tickSize":9}},"text":{"field":"num"}}},
{"data":{"name":"bars"},"transform":[{"filter":"datum.map===5&&datum.kind==='common'"}],"mark":{"type":"bar","height":7,"stroke":"#7fb0d3","strokeWidth":1,"fill":{"gradient":"linear","x1":0,"y1":0,"x2":1.7834,"y2":0.03976,"stops":[{"offset":0,"color":"#2b76a4"},
{"offset":0.0116,"color":"#2b76a4"},{"offset":0.0116,"color":"#fff"},{"offset":0.0313,"color":"#fff"},{"offset":0.0313,"color":"#2b76a4"},
{"offset":0.0607,"color":"#2b76a4"},{"offset":0.0607,"color":"#fff"},{"offset":0.0804,"color":"#fff"},{"offset":0.0804,"color":"#2b76a4"},
{"offset":0.1098,"color":"#2b76a4"},{"offset":0.1098,"color":"#fff"},{"offset":0.1295,"color":"#fff"},{"offset":0.1295,"color":"#2b76a4"},
{"offset":0.1589,"color":"#2b76a4"},{"offset":0.1589,"color":"#fff"},{"offset":0.1786,"color":"#fff"},{"offset":0.1786,"color":"#2b76a4"},
{"offset":0.208,"color":"#2b76a4"},{"offset":0.208,"color":"#fff"},{"offset":0.2277,"color":"#fff"},{"offset":0.2277,"color":"#2b76a4"},
{"offset":0.2571,"color":"#2b76a4"},{"offset":0.2571,"color":"#fff"},{"offset":0.2768,"color":"#fff"},{"offset":0.2768,"color":"#2b76a4"},
{"offset":0.3063,"color":"#2b76a4"},{"offset":0.3063,"color":"#fff"},{"offset":0.3259,"color":"#fff"},{"offset":0.3259,"color":"#2b76a4"},
{"offset":0.3554,"color":"#2b76a4"},{"offset":0.3554,"color":"#fff"},{"offset":0.375,"color":"#fff"},{"offset":0.375,"color":"#2b76a4"},
{"offset":0.4045,"color":"#2b76a4"},{"offset":0.4045,"color":"#fff"},{"offset":0.4241,"color":"#fff"},{"offset":0.4241,"color":"#2b76a4"},
{"offset":0.4536,"color":"#2b76a4"},{"offset":0.4536,"color":"#fff"},{"offset":0.4732,"color":"#fff"},{"offset":0.4732,"color":"#2b76a4"},
{"offset":0.5027,"color":"#2b76a4"},{"offset":0.5027,"color":"#fff"},{"offset":0.5223,"color":"#fff"},{"offset":0.5223,"color":"#2b76a4"},
{"offset":0.5518,"color":"#2b76a4"},{"offset":0.5518,"color":"#fff"},{"offset":0.5714,"color":"#fff"},{"offset":0.5714,"color":"#2b76a4"}]}},"encoding":{"x":{"field":"value","type":"quantitative","scale":{"domain":[0,14.36],"nice":false,"zero":false},"axis":null},"y":{"field":"map","type":"nominal","scale":{"paddingInner":0,"paddingOuter":0.0536},"axis":null},"yOffset":{"field":"kind","type":"nominal","scale":{"domain":["common","similar","AM3","LM6"],"paddingInner":0.43,"paddingOuter":0.215}}}},
{"data":{"name":"bars"},"transform":[{"filter":"datum.map===5&&datum.kind==='similar'"}],"mark":{"type":"bar","height":5,"fill":"#ffffff","stroke":"#5b8fb7","strokeWidth":1.2},"encoding":{"x":{"field":"value","type":"quantitative","scale":{"domain":[0,14.36],"nice":false,"zero":false},"axis":null},"y":{"field":"map","type":"nominal","scale":{"paddingInner":0,"paddingOuter":0.0536},"axis":null},"yOffset":{"field":"kind","type":"nominal","scale":{"domain":["common","similar","AM3","LM6"],"paddingInner":0.43,"paddingOuter":0.215}}}},
{"data":{"name":"bars"},"transform":[{"filter":"datum.map===5&&(datum.kind==='AM3'||datum.kind==='LM6')"}],"mark":{"type":"bar","height":8.5},"encoding":{"x":{"field":"value","type":"quantitative","scale":{"domain":[0,14.36],"nice":false,"zero":false},"axis":null},"y":{"field":"map","type":"nominal","scale":{"paddingInner":0,"paddingOuter":0.0536},"axis":null},"yOffset":{"field":"kind","type":"nominal","scale":{"domain":["common","similar","AM3","LM6"],"paddingInner":0.43,"paddingOuter":0.215}},"color":{"field":"kind","type":"nominal","scale":{"domain":["AM3","LM6"],"range":["#ff8c00","#1e90ff"]},"legend":null}}}
],
"resolve":{"scale":{"x":"independent","y":"independent","yOffset":"independent"}}},
{"width":556,"height":162,
"layer":[
{"data":{"name":"maps"},"transform":[{"filter":"datum.map===6"}],"mark":{"type":"point","opacity":0},"encoding":{"x":{"datum":0,"type":"quantitative","scale":{"domain":[0,27],"nice":false,"zero":false},"axis":{"orient":"bottom","grid":true,"gridColor":"#e8e8e8","labels":false,"ticks":false,"domain":false,"title":null,"values":[1,2,3,4,5,6,7,8,9,10,11,12,13,14,15,16,17,18,19,20,21,22,23,24,25,26]}}}},
{"data":{"name":"maps"},"transform":[{"filter":"datum.map===6"}],"mark":{"type":"text","align":"left","baseline":"alphabetic","dy":56,"lineBreak":"\n","lineHeight":50,"fontSize":27,"color":"#47698a"},"encoding":{"x":{"datum":16.12,"type":"quantitative","scale":{"domain":[0,14.36],"nice":false,"zero":false},"axis":null},"y":{"field":"map","type":"nominal","bandPosition":0,"scale":{"paddingInner":0,"paddingOuter":0},"axis":{"orient":"left","title":null,"tickBand":"extent","tickSize":7,"labelFontSize":28,"labelAlign":"center","labelColor":"#45698a","labelPadding":20,"labelOffset":2}},"text":{"field":"label"}}},
{"data":{"name":"maps"},"transform":[{"filter":"datum.map===6"}],"mark":{"type":"text","align":"right","baseline":"alphabetic","dy":56,"fontSize":27,"color":"#47698a"},"encoding":{"x":{"datum":15.88,"type":"quantitative","scale":{"domain":[0,14.36],"nice":false,"zero":false},"axis":null},"y":{"field":"map","type":"nominal","bandPosition":0,"scale":{"paddingInner":0,"paddingOuter":0},"axis":{"orient":"right","labels":false,"title":null,"tickBand":"extent","tickSize":9}},"text":{"field":"num"}}},
{"data":{"name":"bars"},"transform":[{"filter":"datum.map===6&&datum.kind==='common'"}],"mark":{"type":"bar","height":7,"stroke":"#7fb0d3","strokeWidth":1,"fill":{"gradient":"linear","x1":0,"y1":0,"x2":1.9231,"y2":0.04623,"stops":[{"offset":0,"color":"#2b76a4"},
{"offset":0.0116,"color":"#2b76a4"},{"offset":0.0116,"color":"#fff"},{"offset":0.0313,"color":"#fff"},{"offset":0.0313,"color":"#2b76a4"},
{"offset":0.0607,"color":"#2b76a4"},{"offset":0.0607,"color":"#fff"},{"offset":0.0804,"color":"#fff"},{"offset":0.0804,"color":"#2b76a4"},
{"offset":0.1098,"color":"#2b76a4"},{"offset":0.1098,"color":"#fff"},{"offset":0.1295,"color":"#fff"},{"offset":0.1295,"color":"#2b76a4"},
{"offset":0.1589,"color":"#2b76a4"},{"offset":0.1589,"color":"#fff"},{"offset":0.1786,"color":"#fff"},{"offset":0.1786,"color":"#2b76a4"},
{"offset":0.208,"color":"#2b76a4"},{"offset":0.208,"color":"#fff"},{"offset":0.2277,"color":"#fff"},{"offset":0.2277,"color":"#2b76a4"},
{"offset":0.2571,"color":"#2b76a4"},{"offset":0.2571,"color":"#fff"},{"offset":0.2768,"color":"#fff"},{"offset":0.2768,"color":"#2b76a4"},
{"offset":0.3063,"color":"#2b76a4"},{"offset":0.3063,"color":"#fff"},{"offset":0.3259,"color":"#fff"},{"offset":0.3259,"color":"#2b76a4"},
{"offset":0.3554,"color":"#2b76a4"},{"offset":0.3554,"color":"#fff"},{"offset":0.375,"color":"#fff"},{"offset":0.375,"color":"#2b76a4"},
{"offset":0.4045,"color":"#2b76a4"},{"offset":0.4045,"color":"#fff"},{"offset":0.4241,"color":"#fff"},{"offset":0.4241,"color":"#2b76a4"},
{"offset":0.4536,"color":"#2b76a4"},{"offset":0.4536,"color":"#fff"},{"offset":0.4732,"color":"#fff"},{"offset":0.4732,"color":"#2b76a4"},
{"offset":0.5027,"color":"#2b76a4"},{"offset":0.5027,"color":"#fff"},{"offset":0.5223,"color":"#fff"},{"offset":0.5223,"color":"#2b76a4"}]}},"encoding":{"x":{"field":"value","type":"quantitative","scale":{"domain":[0,14.36],"nice":false,"zero":false},"axis":null},"y":{"field":"map","type":"nominal","scale":{"paddingInner":0,"paddingOuter":0.9464},"axis":null},"yOffset":{"field":"kind","type":"nominal","scale":{"domain":["common","similar","AM3","LM6"],"paddingInner":0.43,"paddingOuter":0.215}}}},
{"data":{"name":"bars"},"transform":[{"filter":"datum.map===6&&datum.kind==='similar'"}],"mark":{"type":"bar","height":5,"fill":"#ffffff","stroke":"#5b8fb7","strokeWidth":1.2},"encoding":{"x":{"field":"value","type":"quantitative","scale":{"domain":[0,14.36],"nice":false,"zero":false},"axis":null},"y":{"field":"map","type":"nominal","scale":{"paddingInner":0,"paddingOuter":0.9464},"axis":null},"yOffset":{"field":"kind","type":"nominal","scale":{"domain":["common","similar","AM3","LM6"],"paddingInner":0.43,"paddingOuter":0.215}}}},
{"data":{"name":"bars"},"transform":[{"filter":"datum.map===6&&(datum.kind==='AM3'||datum.kind==='LM6')"}],"mark":{"type":"bar","height":8.5},"encoding":{"x":{"field":"value","type":"quantitative","scale":{"domain":[0,14.36],"nice":false,"zero":false},"axis":null},"y":{"field":"map","type":"nominal","scale":{"paddingInner":0,"paddingOuter":0.9464},"axis":null},"yOffset":{"field":"kind","type":"nominal","scale":{"domain":["common","similar","AM3","LM6"],"paddingInner":0.43,"paddingOuter":0.215}},"color":{"field":"kind","type":"nominal","scale":{"domain":["AM3","LM6"],"range":["#ff8c00","#1e90ff"]},"legend":null}}}
],
"resolve":{"scale":{"x":"independent","y":"independent","yOffset":"independent"}}},
{"width":556,"height":112,
"layer":[
{"data":{"name":"maps"},"transform":[{"filter":"datum.map===7"}],"mark":{"type":"point","opacity":0},"encoding":{"x":{"datum":0,"type":"quantitative","scale":{"domain":[0,27],"nice":false,"zero":false},"axis":{"orient":"bottom","grid":true,"gridColor":"#e8e8e8","labels":false,"ticks":false,"domain":false,"title":null,"values":[1,2,3,4,5,6,7,8,9,10,11,12,13,14,15,16,17,18,19,20,21,22,23,24,25,26]}}}},
{"data":{"name":"maps"},"transform":[{"filter":"datum.map===7"}],"mark":{"type":"text","align":"left","baseline":"alphabetic","dy":56,"lineBreak":"\n","lineHeight":50,"fontSize":27,"color":"#47698a"},"encoding":{"x":{"datum":16.12,"type":"quantitative","scale":{"domain":[0,14.36],"nice":false,"zero":false},"axis":null},"y":{"field":"map","type":"nominal","bandPosition":0,"scale":{"paddingInner":0,"paddingOuter":0},"axis":{"orient":"left","title":null,"tickBand":"extent","tickSize":7,"labelFontSize":28,"labelAlign":"center","labelColor":"#45698a","labelPadding":20,"labelOffset":2}},"text":{"field":"label"}}},
{"data":{"name":"maps"},"transform":[{"filter":"datum.map===7"}],"mark":{"type":"text","align":"right","baseline":"alphabetic","dy":56,"fontSize":27,"color":"#47698a"},"encoding":{"x":{"datum":15.88,"type":"quantitative","scale":{"domain":[0,14.36],"nice":false,"zero":false},"axis":null},"y":{"field":"map","type":"nominal","bandPosition":0,"scale":{"paddingInner":0,"paddingOuter":0},"axis":{"orient":"right","labels":false,"title":null,"tickBand":"extent","tickSize":9}},"text":{"field":"num"}}},
{"data":{"name":"bars"},"transform":[{"filter":"datum.map===7&&datum.kind==='common'"}],"mark":{"type":"bar","height":7,"stroke":"#7fb0d3","strokeWidth":1,"fill":{"gradient":"linear","x1":0,"y1":0,"x2":1.9384,"y2":0.04697,"stops":[{"offset":0,"color":"#2b76a4"},
{"offset":0.0116,"color":"#2b76a4"},{"offset":0.0116,"color":"#fff"},{"offset":0.0313,"color":"#fff"},{"offset":0.0313,"color":"#2b76a4"},
{"offset":0.0607,"color":"#2b76a4"},{"offset":0.0607,"color":"#fff"},{"offset":0.0804,"color":"#fff"},{"offset":0.0804,"color":"#2b76a4"},
{"offset":0.1098,"color":"#2b76a4"},{"offset":0.1098,"color":"#fff"},{"offset":0.1295,"color":"#fff"},{"offset":0.1295,"color":"#2b76a4"},
{"offset":0.1589,"color":"#2b76a4"},{"offset":0.1589,"color":"#fff"},{"offset":0.1786,"color":"#fff"},{"offset":0.1786,"color":"#2b76a4"},
{"offset":0.208,"color":"#2b76a4"},{"offset":0.208,"color":"#fff"},{"offset":0.2277,"color":"#fff"},{"offset":0.2277,"color":"#2b76a4"},
{"offset":0.2571,"color":"#2b76a4"},{"offset":0.2571,"color":"#fff"},{"offset":0.2768,"color":"#fff"},{"offset":0.2768,"color":"#2b76a4"},
{"offset":0.3063,"color":"#2b76a4"},{"offset":0.3063,"color":"#fff"},{"offset":0.3259,"color":"#fff"},{"offset":0.3259,"color":"#2b76a4"},
{"offset":0.3554,"color":"#2b76a4"},{"offset":0.3554,"color":"#fff"},{"offset":0.375,"color":"#fff"},{"offset":0.375,"color":"#2b76a4"},
{"offset":0.4045,"color":"#2b76a4"},{"offset":0.4045,"color":"#fff"},{"offset":0.4241,"color":"#fff"},{"offset":0.4241,"color":"#2b76a4"},
{"offset":0.4536,"color":"#2b76a4"},{"offset":0.4536,"color":"#fff"},{"offset":0.4732,"color":"#fff"},{"offset":0.4732,"color":"#2b76a4"},
{"offset":0.5027,"color":"#2b76a4"},{"offset":0.5027,"color":"#fff"},{"offset":0.5223,"color":"#fff"},{"offset":0.5223,"color":"#2b76a4"}]}},"encoding":{"x":{"field":"value","type":"quantitative","scale":{"domain":[0,14.36],"nice":false,"zero":false},"axis":null},"y":{"field":"map","type":"nominal","scale":{"paddingInner":0,"paddingOuter":0.5},"axis":null},"yOffset":{"field":"kind","type":"nominal","scale":{"domain":["common","similar","AM3","LM6"],"paddingInner":0.43,"paddingOuter":0.215}}}},
{"data":{"name":"bars"},"transform":[{"filter":"datum.map===7&&datum.kind==='similar'"}],"mark":{"type":"bar","height":5,"fill":"#ffffff","stroke":"#5b8fb7","strokeWidth":1.2},"encoding":{"x":{"field":"value","type":"quantitative","scale":{"domain":[0,14.36],"nice":false,"zero":false},"axis":null},"y":{"field":"map","type":"nominal","scale":{"paddingInner":0,"paddingOuter":0.5},"axis":null},"yOffset":{"field":"kind","type":"nominal","scale":{"domain":["common","similar","AM3","LM6"],"paddingInner":0.43,"paddingOuter":0.215}}}},
{"data":{"name":"bars"},"transform":[{"filter":"datum.map===7&&(datum.kind==='AM3'||datum.kind==='LM6')"}],"mark":{"type":"bar","height":8.5},"encoding":{"x":{"field":"value","type":"quantitative","scale":{"domain":[0,14.36],"nice":false,"zero":false},"axis":null},"y":{"field":"map","type":"nominal","scale":{"paddingInner":0,"paddingOuter":0.5},"axis":null},"yOffset":{"field":"kind","type":"nominal","scale":{"domain":["common","similar","AM3","LM6"],"paddingInner":0.43,"paddingOuter":0.215}},"color":{"field":"kind","type":"nominal","scale":{"domain":["AM3","LM6"],"range":["#ff8c00","#1e90ff"]},"legend":null}}}
],
"resolve":{"scale":{"x":"independent","y":"independent","yOffset":"independent"}}},
{"width":556,"height":162,
"layer":[
{"data":{"name":"maps"},"transform":[{"filter":"datum.map===8"}],"mark":{"type":"point","opacity":0},"encoding":{"x":{"datum":0,"type":"quantitative","scale":{"domain":[0,27],"nice":false,"zero":false},"axis":{"orient":"bottom","grid":true,"gridColor":"#e8e8e8","labels":false,"ticks":false,"domain":false,"title":null,"values":[1,2,3,4,5,6,7,8,9,10,11,12,13,14,15,16,17,18,19,20,21,22,23,24,25,26]}}}},
{"data":{"name":"maps"},"transform":[{"filter":"datum.map===8"}],"mark":{"type":"text","align":"left","baseline":"alphabetic","dy":56,"lineBreak":"\n","lineHeight":50,"fontSize":27,"color":"#47698a"},"encoding":{"x":{"datum":16.12,"type":"quantitative","scale":{"domain":[0,14.36],"nice":false,"zero":false},"axis":null},"y":{"field":"map","type":"nominal","bandPosition":0,"scale":{"paddingInner":0,"paddingOuter":0},"axis":{"orient":"left","title":null,"tickBand":"extent","tickSize":7,"labelFontSize":28,"labelAlign":"center","labelColor":"#45698a","labelPadding":20,"labelOffset":2}},"text":{"field":"label"}}},
{"data":{"name":"maps"},"transform":[{"filter":"datum.map===8"}],"mark":{"type":"text","align":"right","baseline":"alphabetic","dy":56,"fontSize":27,"color":"#47698a"},"encoding":{"x":{"datum":15.88,"type":"quantitative","scale":{"domain":[0,14.36],"nice":false,"zero":false},"axis":null},"y":{"field":"map","type":"nominal","bandPosition":0,"scale":{"paddingInner":0,"paddingOuter":0},"axis":{"orient":"right","labels":false,"title":null,"tickBand":"extent","tickSize":9}},"text":{"field":"num"}}},
{"data":{"name":"bars"},"transform":[{"filter":"datum.map===8&&datum.kind==='common'"}],"mark":{"type":"bar","height":7,"stroke":"#7fb0d3","strokeWidth":1,"fill":{"gradient":"linear","x1":0,"y1":0,"x2":2.3709,"y2":0.07026,"stops":[{"offset":0,"color":"#2b76a4"},
{"offset":0.0116,"color":"#2b76a4"},{"offset":0.0116,"color":"#fff"},{"offset":0.0313,"color":"#fff"},{"offset":0.0313,"color":"#2b76a4"},
{"offset":0.0607,"color":"#2b76a4"},{"offset":0.0607,"color":"#fff"},{"offset":0.0804,"color":"#fff"},{"offset":0.0804,"color":"#2b76a4"},
{"offset":0.1098,"color":"#2b76a4"},{"offset":0.1098,"color":"#fff"},{"offset":0.1295,"color":"#fff"},{"offset":0.1295,"color":"#2b76a4"},
{"offset":0.1589,"color":"#2b76a4"},{"offset":0.1589,"color":"#fff"},{"offset":0.1786,"color":"#fff"},{"offset":0.1786,"color":"#2b76a4"},
{"offset":0.208,"color":"#2b76a4"},{"offset":0.208,"color":"#fff"},{"offset":0.2277,"color":"#fff"},{"offset":0.2277,"color":"#2b76a4"},
{"offset":0.2571,"color":"#2b76a4"},{"offset":0.2571,"color":"#fff"},{"offset":0.2768,"color":"#fff"},{"offset":0.2768,"color":"#2b76a4"},
{"offset":0.3063,"color":"#2b76a4"},{"offset":0.3063,"color":"#fff"},{"offset":0.3259,"color":"#fff"},{"offset":0.3259,"color":"#2b76a4"},
{"offset":0.3554,"color":"#2b76a4"},{"offset":0.3554,"color":"#fff"},{"offset":0.375,"color":"#fff"},{"offset":0.375,"color":"#2b76a4"},
{"offset":0.4045,"color":"#2b76a4"},{"offset":0.4045,"color":"#fff"},{"offset":0.4241,"color":"#fff"},{"offset":0.4241,"color":"#2b76a4"}]}},"encoding":{"x":{"field":"value","type":"quantitative","scale":{"domain":[0,14.36],"nice":false,"zero":false},"axis":null},"y":{"field":"map","type":"nominal","scale":{"paddingInner":0,"paddingOuter":0.9464},"axis":null},"yOffset":{"field":"kind","type":"nominal","scale":{"domain":["common","similar","AM3","LM6"],"paddingInner":0.43,"paddingOuter":0.215}}}},
{"data":{"name":"bars"},"transform":[{"filter":"datum.map===8&&datum.kind==='similar'"}],"mark":{"type":"bar","height":5,"fill":"#ffffff","stroke":"#5b8fb7","strokeWidth":1.2},"encoding":{"x":{"field":"value","type":"quantitative","scale":{"domain":[0,14.36],"nice":false,"zero":false},"axis":null},"y":{"field":"map","type":"nominal","scale":{"paddingInner":0,"paddingOuter":0.9464},"axis":null},"yOffset":{"field":"kind","type":"nominal","scale":{"domain":["common","similar","AM3","LM6"],"paddingInner":0.43,"paddingOuter":0.215}}}},
{"data":{"name":"bars"},"transform":[{"filter":"datum.map===8&&(datum.kind==='AM3'||datum.kind==='LM6')"}],"mark":{"type":"bar","height":8.5},"encoding":{"x":{"field":"value","type":"quantitative","scale":{"domain":[0,14.36],"nice":false,"zero":false},"axis":null},"y":{"field":"map","type":"nominal","scale":{"paddingInner":0,"paddingOuter":0.9464},"axis":null},"yOffset":{"field":"kind","type":"nominal","scale":{"domain":["common","similar","AM3","LM6"],"paddingInner":0.43,"paddingOuter":0.215}},"color":{"field":"kind","type":"nominal","scale":{"domain":["AM3","LM6"],"range":["#ff8c00","#1e90ff"]},"legend":null}}}
],
"resolve":{"scale":{"x":"independent","y":"independent","yOffset":"independent"}}},
{"width":556,"height":112,
"layer":[
{"data":{"name":"maps"},"transform":[{"filter":"datum.map===9"}],"mark":{"type":"point","opacity":0},"encoding":{"x":{"datum":0,"type":"quantitative","scale":{"domain":[0,27],"nice":false,"zero":false},"axis":{"orient":"bottom","grid":true,"gridColor":"#e8e8e8","labels":false,"ticks":false,"domain":false,"title":null,"values":[1,2,3,4,5,6,7,8,9,10,11,12,13,14,15,16,17,18,19,20,21,22,23,24,25,26]}}}},
{"data":{"name":"maps"},"transform":[{"filter":"datum.map===9"}],"mark":{"type":"text","align":"left","baseline":"alphabetic","dy":56,"lineBreak":"\n","lineHeight":50,"fontSize":27,"color":"#47698a"},"encoding":{"x":{"datum":16.12,"type":"quantitative","scale":{"domain":[0,14.36],"nice":false,"zero":false},"axis":null},"y":{"field":"map","type":"nominal","bandPosition":0,"scale":{"paddingInner":0,"paddingOuter":0},"axis":{"orient":"left","title":null,"tickBand":"extent","tickSize":7,"labelFontSize":28,"labelAlign":"center","labelColor":"#45698a","labelPadding":20,"labelOffset":2}},"text":{"field":"label"}}},
{"data":{"name":"maps"},"transform":[{"filter":"datum.map===9"}],"mark":{"type":"text","align":"right","baseline":"alphabetic","dy":56,"fontSize":27,"color":"#47698a"},"encoding":{"x":{"datum":15.88,"type":"quantitative","scale":{"domain":[0,14.36],"nice":false,"zero":false},"axis":null},"y":{"field":"map","type":"nominal","bandPosition":0,"scale":{"paddingInner":0,"paddingOuter":0},"axis":{"orient":"right","labels":false,"title":null,"tickBand":"extent","tickSize":9}},"text":{"field":"num"}}},
{"data":{"name":"bars"},"transform":[{"filter":"datum.map===9&&datum.kind==='common'"}],"mark":{"type":"bar","height":7,"stroke":"#7fb0d3","strokeWidth":1,"fill":{"gradient":"linear","x1":0,"y1":0,"x2":2.4024,"y2":0.07214,"stops":[{"offset":0,"color":"#2b76a4"},
{"offset":0.0116,"color":"#2b76a4"},{"offset":0.0116,"color":"#fff"},{"offset":0.0313,"color":"#fff"},{"offset":0.0313,"color":"#2b76a4"},
{"offset":0.0607,"color":"#2b76a4"},{"offset":0.0607,"color":"#fff"},{"offset":0.0804,"color":"#fff"},{"offset":0.0804,"color":"#2b76a4"},
{"offset":0.1098,"color":"#2b76a4"},{"offset":0.1098,"color":"#fff"},{"offset":0.1295,"color":"#fff"},{"offset":0.1295,"color":"#2b76a4"},
{"offset":0.1589,"color":"#2b76a4"},{"offset":0.1589,"color":"#fff"},{"offset":0.1786,"color":"#fff"},{"offset":0.1786,"color":"#2b76a4"},
{"offset":0.208,"color":"#2b76a4"},{"offset":0.208,"color":"#fff"},{"offset":0.2277,"color":"#fff"},{"offset":0.2277,"color":"#2b76a4"},
{"offset":0.2571,"color":"#2b76a4"},{"offset":0.2571,"color":"#fff"},{"offset":0.2768,"color":"#fff"},{"offset":0.2768,"color":"#2b76a4"},
{"offset":0.3063,"color":"#2b76a4"},{"offset":0.3063,"color":"#fff"},{"offset":0.3259,"color":"#fff"},{"offset":0.3259,"color":"#2b76a4"},
{"offset":0.3554,"color":"#2b76a4"},{"offset":0.3554,"color":"#fff"},{"offset":0.375,"color":"#fff"},{"offset":0.375,"color":"#2b76a4"},
{"offset":0.4045,"color":"#2b76a4"},{"offset":0.4045,"color":"#fff"},{"offset":0.4241,"color":"#fff"},{"offset":0.4241,"color":"#2b76a4"}]}},"encoding":{"x":{"field":"value","type":"quantitative","scale":{"domain":[0,14.36],"nice":false,"zero":false},"axis":null},"y":{"field":"map","type":"nominal","scale":{"paddingInner":0,"paddingOuter":0.5},"axis":null},"yOffset":{"field":"kind","type":"nominal","scale":{"domain":["common","similar","AM3","LM6"],"paddingInner":0.43,"paddingOuter":0.215}}}},
{"data":{"name":"bars"},"transform":[{"filter":"datum.map===9&&datum.kind==='similar'"}],"mark":{"type":"bar","height":5,"fill":"#ffffff","stroke":"#5b8fb7","strokeWidth":1.2},"encoding":{"x":{"field":"value","type":"quantitative","scale":{"domain":[0,14.36],"nice":false,"zero":false},"axis":null},"y":{"field":"map","type":"nominal","scale":{"paddingInner":0,"paddingOuter":0.5},"axis":null},"yOffset":{"field":"kind","type":"nominal","scale":{"domain":["common","similar","AM3","LM6"],"paddingInner":0.43,"paddingOuter":0.215}}}},
{"data":{"name":"bars"},"transform":[{"filter":"datum.map===9&&(datum.kind==='AM3'||datum.kind==='LM6')"}],"mark":{"type":"bar","height":8.5},"encoding":{"x":{"field":"value","type":"quantitative","scale":{"domain":[0,14.36],"nice":false,"zero":false},"axis":null},"y":{"field":"map","type":"nominal","scale":{"paddingInner":0,"paddingOuter":0.5},"axis":null},"yOffset":{"field":"kind","type":"nominal","scale":{"domain":["common","similar","AM3","LM6"],"paddingInner":0.43,"paddingOuter":0.215}},"color":{"field":"kind","type":"nominal","scale":{"domain":["AM3","LM6"],"range":["#ff8c00","#1e90ff"]},"legend":null}}}
],
"resolve":{"scale":{"x":"independent","y":"independent","yOffset":"independent"}}},
{"width":556,"height":112,
"layer":[
{"data":{"name":"maps"},"transform":[{"filter":"datum.map===10"}],"mark":{"type":"point","opacity":0},"encoding":{"x":{"datum":0,"type":"quantitative","scale":{"domain":[0,27],"nice":false,"zero":false},"axis":{"orient":"bottom","grid":true,"gridColor":"#e8e8e8","labels":false,"ticks":false,"domain":false,"title":null,"values":[1,2,3,4,5,6,7,8,9,10,11,12,13,14,15,16,17,18,19,20,21,22,23,24,25,26]}}}},
{"data":{"name":"maps"},"transform":[{"filter":"datum.map===10"}],"mark":{"type":"text","align":"left","baseline":"alphabetic","dy":56,"lineBreak":"\n","lineHeight":50,"fontSize":27,"color":"#47698a"},"encoding":{"x":{"datum":16.12,"type":"quantitative","scale":{"domain":[0,14.36],"nice":false,"zero":false},"axis":null},"y":{"field":"map","type":"nominal","bandPosition":0,"scale":{"paddingInner":0,"paddingOuter":0},"axis":{"orient":"left","tickBand":"extent","tickSize":7,"labelFontSize":28,"labelAlign":"center","labelColor":"#45698a","labelPadding":20,"labelOffset":2,"title":"Maps","titleAngle":0,"titleAlign":"left","titleBaseline":"middle","titleX":7,"titleY":124,"titleFontWeight":"bold","titleFontSize":22.5,"titleColor":"#1d3549"}},"text":{"field":"label"}}},
{"data":{"name":"maps"},"transform":[{"filter":"datum.map===10"}],"mark":{"type":"text","align":"right","baseline":"alphabetic","dy":56,"fontSize":27,"color":"#47698a"},"encoding":{"x":{"datum":15.88,"type":"quantitative","scale":{"domain":[0,14.36],"nice":false,"zero":false},"axis":null},"y":{"field":"map","type":"nominal","bandPosition":0,"scale":{"paddingInner":0,"paddingOuter":0},"axis":{"orient":"right","labels":false,"title":null,"tickBand":"extent","tickSize":9}},"text":{"field":"num"}}},
{"data":{"name":"bars"},"transform":[{"filter":"datum.map===10&&datum.kind==='common'"}],"mark":{"type":"bar","height":7,"stroke":"#7fb0d3","strokeWidth":1,"fill":{"gradient":"linear","x1":0,"y1":0,"x2":2.4978,"y2":0.07799,"stops":[{"offset":0,"color":"#2b76a4"},
{"offset":0.0116,"color":"#2b76a4"},{"offset":0.0116,"color":"#fff"},{"offset":0.0313,"color":"#fff"},{"offset":0.0313,"color":"#2b76a4"},
{"offset":0.0607,"color":"#2b76a4"},{"offset":0.0607,"color":"#fff"},{"offset":0.0804,"color":"#fff"},{"offset":0.0804,"color":"#2b76a4"},
{"offset":0.1098,"color":"#2b76a4"},{"offset":0.1098,"color":"#fff"},{"offset":0.1295,"color":"#fff"},{"offset":0.1295,"color":"#2b76a4"},
{"offset":0.1589,"color":"#2b76a4"},{"offset":0.1589,"color":"#fff"},{"offset":0.1786,"color":"#fff"},{"offset":0.1786,"color":"#2b76a4"},
{"offset":0.208,"color":"#2b76a4"},{"offset":0.208,"color":"#fff"},{"offset":0.2277,"color":"#fff"},{"offset":0.2277,"color":"#2b76a4"},
{"offset":0.2571,"color":"#2b76a4"},{"offset":0.2571,"color":"#fff"},{"offset":0.2768,"color":"#fff"},{"offset":0.2768,"color":"#2b76a4"},
{"offset":0.3063,"color":"#2b76a4"},{"offset":0.3063,"color":"#fff"},{"offset":0.3259,"color":"#fff"},{"offset":0.3259,"color":"#2b76a4"},
{"offset":0.3554,"color":"#2b76a4"},{"offset":0.3554,"color":"#fff"},{"offset":0.375,"color":"#fff"},{"offset":0.375,"color":"#2b76a4"},
{"offset":0.4045,"color":"#2b76a4"},{"offset":0.4045,"color":"#fff"},{"offset":0.4241,"color":"#fff"},{"offset":0.4241,"color":"#2b76a4"}]}},"encoding":{"x":{"field":"value","type":"quantitative","scale":{"domain":[0,14.36],"nice":false,"zero":false},"axis":null},"y":{"field":"map","type":"nominal","scale":{"paddingInner":0,"paddingOuter":0.5},"axis":null},"yOffset":{"field":"kind","type":"nominal","scale":{"domain":["common","similar","AM3","LM6"],"paddingInner":0.43,"paddingOuter":0.215}}}},
{"data":{"name":"bars"},"transform":[{"filter":"datum.map===10&&datum.kind==='similar'"}],"mark":{"type":"bar","height":5,"fill":"#ffffff","stroke":"#5b8fb7","strokeWidth":1.2},"encoding":{"x":{"field":"value","type":"quantitative","scale":{"domain":[0,14.36],"nice":false,"zero":false},"axis":null},"y":{"field":"map","type":"nominal","scale":{"paddingInner":0,"paddingOuter":0.5},"axis":null},"yOffset":{"field":"kind","type":"nominal","scale":{"domain":["common","similar","AM3","LM6"],"paddingInner":0.43,"paddingOuter":0.215}}}},
{"data":{"name":"bars"},"transform":[{"filter":"datum.map===10&&(datum.kind==='AM3'||datum.kind==='LM6')"}],"mark":{"type":"bar","height":8.5},"encoding":{"x":{"field":"value","type":"quantitative","scale":{"domain":[0,14.36],"nice":false,"zero":false},"axis":null},"y":{"field":"map","type":"nominal","scale":{"paddingInner":0,"paddingOuter":0.5},"axis":null},"yOffset":{"field":"kind","type":"nominal","scale":{"domain":["common","similar","AM3","LM6"],"paddingInner":0.43,"paddingOuter":0.215}},"color":{"field":"kind","type":"nominal","scale":{"domain":["AM3","LM6"],"range":["#ff8c00","#1e90ff"]},"legend":null}}},
{"data":{"name":"maps"},"transform":[{"filter":"datum.map===10"}],"mark":{"type":"text","text":"▼","font":"DejaVu Sans","fontSize":9,"align":"center","baseline":"top","dy":56,"color":"#999999"},"encoding":{"x":{"datum":0,"type":"quantitative","scale":{"domain":[0,14.36],"nice":false,"zero":false},"axis":null},"y":{"field":"map","type":"nominal","scale":{"paddingInner":0,"paddingOuter":0},"axis":null}}}
],
"resolve":{"scale":{"x":"independent","y":"independent","yOffset":"independent"}}}
],"spacing":0,"bounds":"flush","resolve":{"scale":{"yOffset":"independent"}}}
],"spacing":0,"bounds":"flush","resolve":{"scale":{"yOffset":"independent"}}}
],
"resolve":{"scale":{"yOffset":"independent"}}
}
